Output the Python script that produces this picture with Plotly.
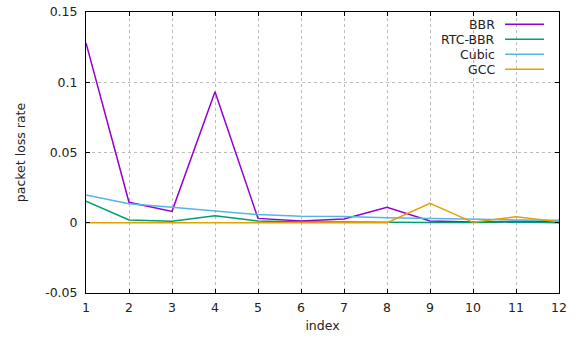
import plotly.graph_objects as go

index = list(range(1, 13))
bbr = [0.128, 0.0146, 0.0081, 0.0933, 0.0031, 0.0012, 0.0027, 0.011, 0.0012, 0.0005, 0.001, 0.0005]
rtc_bbr = [0.0153, 0.002, 0.001, 0.005, 0.0012, 0.0005, 0.0005, 0.0002, 0.0002, 0.0002, 0.0005, 0.0]
cubic = [0.0197, 0.0136, 0.011, 0.0084, 0.0058, 0.0046, 0.0045, 0.0036, 0.0029, 0.0025, 0.002, 0.0018]
gcc = [0.0, 0.0, 0.0, 0.0, 0.0, 0.0, 0.0, 0.0, 0.0138, 0.0003, 0.0043, 0.0008]

series_names = ["BBR", "RTC-BBR", "Cubic", "GCC"]
series_colors = ["#9400d3", "#009e73", "#56b4e9", "#e69f00"]
series_values = [bbr, rtc_bbr, cubic, gcc]

y_ticks = [-0.05, 0, 0.05, 0.1, 0.15]
y_ticktext = ["-0.05", "0", "0.05", "0.1", "0.15"]

fig = go.Figure()
for name, color, vals in zip(series_names, series_colors, series_values):
    fig.add_trace(go.Scatter(x=index, y=vals, mode="lines", name=name,
                             line=dict(color=color, width=1.5), showlegend=False))

font = dict(family="DejaVu Sans", size=12.5, color="#222222")
axis_common = dict(showline=True, linecolor="black", linewidth=1, mirror="allticks",
                   ticks="inside", ticklen=4, tickcolor="black",
                   showgrid=True, gridcolor="#bcbcbc", griddash="dot", gridwidth=1,
                   zeroline=False, tickfont=font, ticklabeloverflow="allow")

W, H = 584, 339
l, r, t, b = 86, 25, 12, 46
fig.update_layout(
    width=W, height=H,
    margin=dict(l=l, r=r, t=t, b=b, autoexpand=False),
    plot_bgcolor="white", paper_bgcolor="white",
    font=font,
    xaxis=dict(range=[1, 12], tickvals=index, ticklabelstandoff=3,
               title=dict(text="index", font=font, standoff=7), **axis_common),
    yaxis=dict(range=[-0.05, 0.15], tickvals=y_ticks, ticktext=y_ticktext, ticklabelstandoff=5,
               title=dict(text="packet loss rate", font=font, standoff=16), **axis_common),
)

# legend (gnuplot style: text right-aligned, sample line to the right)
pw, ph = W - l - r, H - t - b
legend_rows_y = [24.3, 39.3, 54.3, 69.3]
for name, color, yy in zip(series_names, series_colors, legend_rows_y):
    py = 1 - (yy - t) / ph
    fig.add_annotation(x=(497 - l) / pw, y=py, xref="paper", yref="paper", text=name,
                       showarrow=False, xanchor="right", yanchor="middle", font=font)
    fig.add_shape(type="line", xref="paper", yref="paper",
                  x0=(505 - l) / pw, x1=(544 - l) / pw, y0=py, y1=py,
                  line=dict(color=color, width=1.5))

fig.write_html("out.html", config={"displayModeBar": False},
               post_script="document.body.style.margin='0';")
